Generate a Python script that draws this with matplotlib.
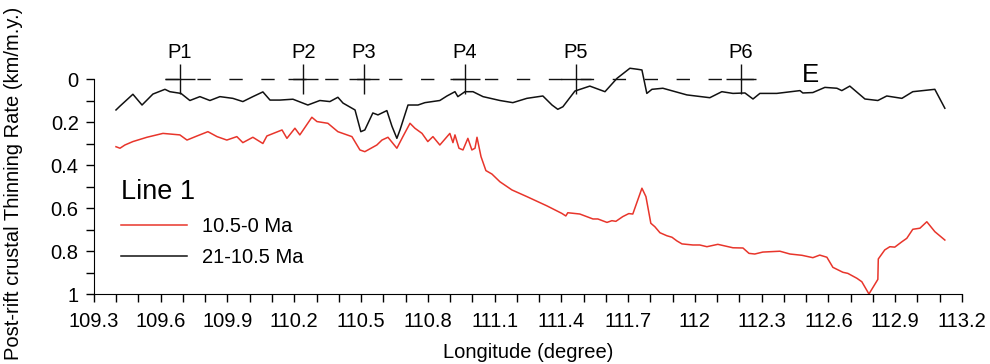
import matplotlib

matplotlib.use("Agg")
import matplotlib.pyplot as plt
from matplotlib.ticker import FixedLocator, FuncFormatter, MultipleLocator

plt.rcParams["font.family"] = ["Liberation Sans", "DejaVu Sans"]

# 21-10.5 Ma thinning rate (km/m.y.) along Line 1
lon_old = [109.399, 109.417, 109.475, 109.516, 109.565, 109.619, 109.641, 109.691,
           109.731, 109.776, 109.821, 109.866, 109.924, 109.969, 110.014, 110.059,
           110.091, 110.136, 110.194, 110.261, 110.315, 110.360, 110.396, 110.419,
           110.473, 110.499, 110.517, 110.553, 110.576, 110.616, 110.639, 110.661,
           110.675, 110.711, 110.756, 110.787, 110.854, 110.886, 110.922, 110.935,
           110.967, 111.003, 111.048, 111.124, 111.182, 111.245, 111.317, 111.358,
           111.384, 111.407, 111.461, 111.528, 111.596, 111.650, 111.708, 111.744,
           111.762, 111.784, 111.807, 111.856, 111.964, 112.067, 112.121, 112.171,
           112.225, 112.261, 112.292, 112.368, 112.472, 112.485, 112.530, 112.584,
           112.638, 112.660, 112.696, 112.764, 112.822, 112.862, 112.930, 112.979,
           113.078, 113.123]
rate_old = [0.144, 0.126, 0.071, 0.121, 0.070, 0.048, 0.059, 0.067,
            0.100, 0.082, 0.100, 0.082, 0.090, 0.105, 0.082, 0.060,
            0.098, 0.098, 0.094, 0.121, 0.100, 0.105, 0.085, 0.112,
            0.144, 0.245, 0.237, 0.158, 0.167, 0.147, 0.220, 0.276,
            0.237, 0.121, 0.121, 0.110, 0.100, 0.079, 0.059, 0.082,
            0.059, 0.059, 0.082, 0.100, 0.110, 0.090, 0.079, 0.121,
            0.141, 0.129, 0.056, 0.033, 0.059, -0.003, -0.050, -0.045,
            -0.042, 0.067, 0.048, 0.043, 0.074, 0.087, 0.059, 0.067,
            0.065, 0.093, 0.067, 0.067, 0.054, 0.065, 0.063, 0.039,
            0.043, 0.054, 0.033, 0.093, 0.100, 0.079, 0.090, 0.059,
            0.048, 0.136]

# 10.5-0 Ma thinning rate (km/m.y.)
lon_young = [109.399, 109.417, 109.439, 109.475, 109.538, 109.610, 109.686, 109.718,
             109.763, 109.812, 109.853, 109.897, 109.942, 109.969, 110.014, 110.059,
             110.077, 110.145, 110.167, 110.203, 110.225, 110.279, 110.302, 110.351,
             110.396, 110.459, 110.495, 110.517, 110.571, 110.594, 110.621, 110.661,
             110.688, 110.720, 110.742, 110.774, 110.800, 110.823, 110.854, 110.899,
             110.913, 110.922, 110.940, 110.958, 110.980, 110.998, 111.012, 111.021,
             111.039, 111.061, 111.088, 111.124, 111.178, 111.245, 111.335, 111.402,
             111.420, 111.429, 111.483, 111.542, 111.564, 111.605, 111.627, 111.645,
             111.676, 111.703, 111.721, 111.762, 111.780, 111.802, 111.820, 111.843,
             111.874, 111.897, 111.919, 111.942, 111.991, 112.022, 112.054, 112.103,
             112.171, 112.216, 112.243, 112.269, 112.305, 112.382, 112.427, 112.481,
             112.530, 112.561, 112.593, 112.620, 112.665, 112.687, 112.728, 112.750,
             112.782, 112.822, 112.824, 112.853, 112.876, 112.898, 112.930, 112.952,
             112.979, 113.011, 113.042, 113.078, 113.123]
rate_young = [0.315, 0.322, 0.307, 0.291, 0.271, 0.253, 0.260, 0.284,
              0.265, 0.245, 0.268, 0.284, 0.268, 0.296, 0.271, 0.300,
              0.265, 0.237, 0.276, 0.229, 0.260, 0.178, 0.198, 0.206,
              0.245, 0.268, 0.330, 0.338, 0.307, 0.284, 0.271, 0.322,
              0.268, 0.206, 0.229, 0.253, 0.291, 0.268, 0.307, 0.253,
              0.296, 0.260, 0.322, 0.330, 0.276, 0.330, 0.322, 0.271,
              0.361, 0.426, 0.442, 0.478, 0.516, 0.547, 0.590, 0.625,
              0.637, 0.622, 0.628, 0.651, 0.651, 0.667, 0.659, 0.662,
              0.640, 0.626, 0.628, 0.508, 0.547, 0.671, 0.687, 0.715,
              0.729, 0.736, 0.753, 0.767, 0.772, 0.772, 0.780, 0.769,
              0.785, 0.786, 0.811, 0.814, 0.805, 0.801, 0.814, 0.820,
              0.831, 0.819, 0.829, 0.876, 0.899, 0.904, 0.927, 0.943,
              1.000, 0.932, 0.837, 0.795, 0.780, 0.782, 0.757, 0.741,
              0.699, 0.694, 0.664, 0.710, 0.749]

# profile points
p_names = ["P1", "P2", "P3", "P4", "P5", "P6"]
p_lon = [109.687, 110.240, 110.513, 110.967, 111.465, 112.205]

x_ticks = [109.3 + 0.3 * i for i in range(14)]
y_ticks = [0, 0.2, 0.4, 0.6, 0.8, 1.0]

RED = "#e8352b"
FS = 14.5

fig = plt.figure(figsize=(9.9, 3.64), dpi=100)
ax = fig.add_axes([0.0949, 0.1923, 0.8768, 0.7974])

line_young, = ax.plot(lon_young, rate_young, color=RED, lw=1.1, label="10.5-0 Ma")
line_old, = ax.plot(lon_old, rate_old, color="#111111", lw=1.1, label="21-10.5 Ma")

# dashed profile line with crosses at the P points
half = 0.067
ax.plot([p_lon[0] - half, p_lon[-1] + half], [0, 0], color="#111111", lw=1.0,
        dashes=(9.6, 13.4))
ax.plot(p_lon, [0] * len(p_lon), ls="none", marker="+", ms=21.6, mew=1.0,
        color="#111111")
for name, lon in zip(p_names, p_lon):
    ax.text(lon, -0.096, name, ha="center", va="baseline", fontsize=FS)
ax.text(112.517, 0.015, "E", ha="center", va="baseline", fontsize=18.5)

ax.set_xlim(109.3, 113.2)
ax.set_ylim(1.0, -0.35)

for side in ("top", "right"):
    ax.spines[side].set_visible(False)
ax.spines["left"].set_bounds(0, 1)

ax.xaxis.set_major_locator(FixedLocator(x_ticks))
ax.xaxis.set_minor_locator(MultipleLocator(0.1))
ax.yaxis.set_major_locator(FixedLocator(y_ticks))
ax.yaxis.set_minor_locator(FixedLocator([0.1, 0.3, 0.5, 0.7, 0.9]))
fmt = FuncFormatter(lambda v, _: f"{v:.10g}" if abs(v) > 1e-9 else "0")
ax.xaxis.set_major_formatter(FuncFormatter(lambda v, _: f"{round(v, 1):g}"))
ax.yaxis.set_major_formatter(fmt)
ax.tick_params(which="both", direction="out", length=6, width=1.0, labelsize=FS)
ax.tick_params(axis="x", pad=7)
ax.tick_params(axis="y", pad=5)

ax.set_xlabel("Longitude (degree)", fontsize=FS)
ax.xaxis.set_label_coords(0.5, -0.17)
ax.xaxis.label.set_va("top")
ax.set_ylabel("Post-rift crustal Thinning Rate (km/m.y.)", fontsize=FS)
ax.yaxis.set_label_coords(-0.082, 0.381)

ax.legend(handles=[line_young, line_old], title="Line 1", alignment="left",
          frameon=False, fontsize=FS, title_fontsize=19.5, loc="upper left",
          bbox_to_anchor=(0.031, 0.395), borderpad=0, borderaxespad=0,
          handlelength=3.3, handletextpad=0.73, labelspacing=0.58)

fig.savefig("out.png", dpi=100)
